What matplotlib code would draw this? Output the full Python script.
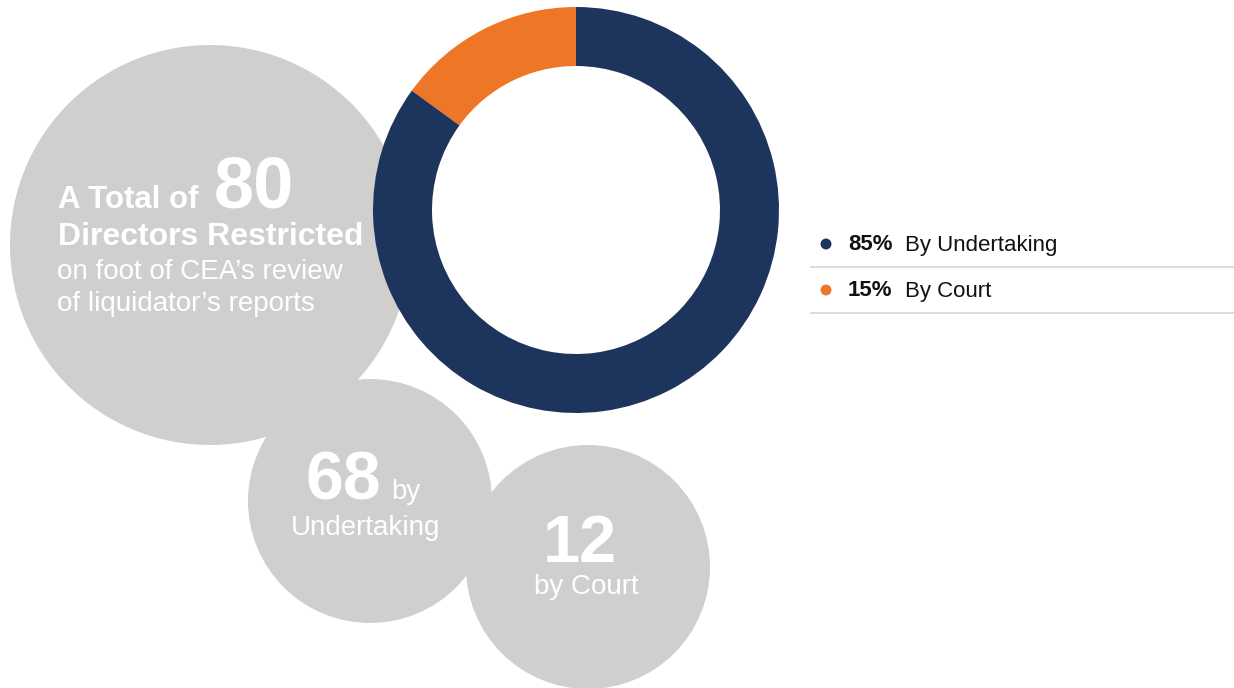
import matplotlib.pyplot as plt
from matplotlib.patches import Circle

# directors restricted, split by outcome
categories = ["By Undertaking", "By Court"]
counts = [68, 12]
sub_labels = ["by\nUndertaking", "by Court"]

NAVY = "#1d355d"
ORANGE = "#ee7627"
GREY = "#d0cfcd"
FONT = "Liberation Sans"

total = sum(counts)
shares = [round(100 * c / total) for c in counts]

H = 688
fig = plt.figure(figsize=(12.34, 6.88), dpi=100)
ax = fig.add_axes([0, 0, 1, 1])

# grey bubbles behind the ring
for (cx, cy, r) in [(210, 245, 200), (370, 501, 122), (588, 567, 122)]:
    ax.add_patch(Circle((cx, H - cy), r, facecolor=GREY, edgecolor="none"))

# donut: court share first so it sits just left of 12 o'clock
ax.pie(counts[::-1], colors=[ORANGE, NAVY], startangle=90, counterclock=True,
       radius=203, center=(576, H - 210),
       wedgeprops=dict(width=59, edgecolor="none", linewidth=0))

ax.set_xlim(0, 1234)
ax.set_ylim(0, H)
ax.set_aspect("equal")
ax.axis("off")

# headline in the big bubble
ax.text(58, H - 208, "A Total of", color="white", fontsize=22.5, fontweight="bold",
        family=FONT, va="baseline")
ax.text(214, H - 208, str(total), color="white", fontsize=52, fontweight="bold",
        family=FONT, va="baseline")
ax.text(58, H - 245, "Directors Restricted", color="white", fontsize=23,
        fontweight="bold", family=FONT, va="baseline")
ax.text(57, H - 279, "on foot of CEA’s review", color="white", fontsize=20,
        family=FONT, va="baseline")
ax.text(57, H - 311, "of liquidator’s reports", color="white", fontsize=20,
        family=FONT, va="baseline")

# undertaking bubble
ax.text(306, H - 499, str(counts[0]), color="white", fontsize=49, fontweight="bold",
        family=FONT, va="baseline")
ax.text(391, H - 499, sub_labels[0].split("\n")[0], color="white", fontsize=20,
        family=FONT, va="baseline")
ax.text(366, H - 535, sub_labels[0].split("\n")[1], color="white", fontsize=20,
        family=FONT, va="baseline", ha="center")

# court bubble
ax.text(580, H - 562, str(counts[1]), color="white", fontsize=48, fontweight="bold",
        family=FONT, va="baseline", ha="center")
ax.text(586, H - 594, sub_labels[1], color="white", fontsize=20,
        family=FONT, va="baseline", ha="center")

# legend rows
for i, (cat, pct, col) in enumerate(zip(categories, shares, [NAVY, ORANGE])):
    y = H - (244 + 46 * i)
    ax.scatter([826], [y], s=62, color=col, edgecolor="none")
    ax.text(848, y - 1, f"{pct}%", fontsize=16, fontweight="bold", color="#111111",
            family=FONT, va="center")
    ax.text(905, y - 1, cat, fontsize=16, color="#111111", family=FONT, va="center")
    ax.plot([811, 1234], [y - 23, y - 23], color="#d9d9d9", lw=1.3)

fig.savefig("out.png", dpi=100, facecolor="white")
